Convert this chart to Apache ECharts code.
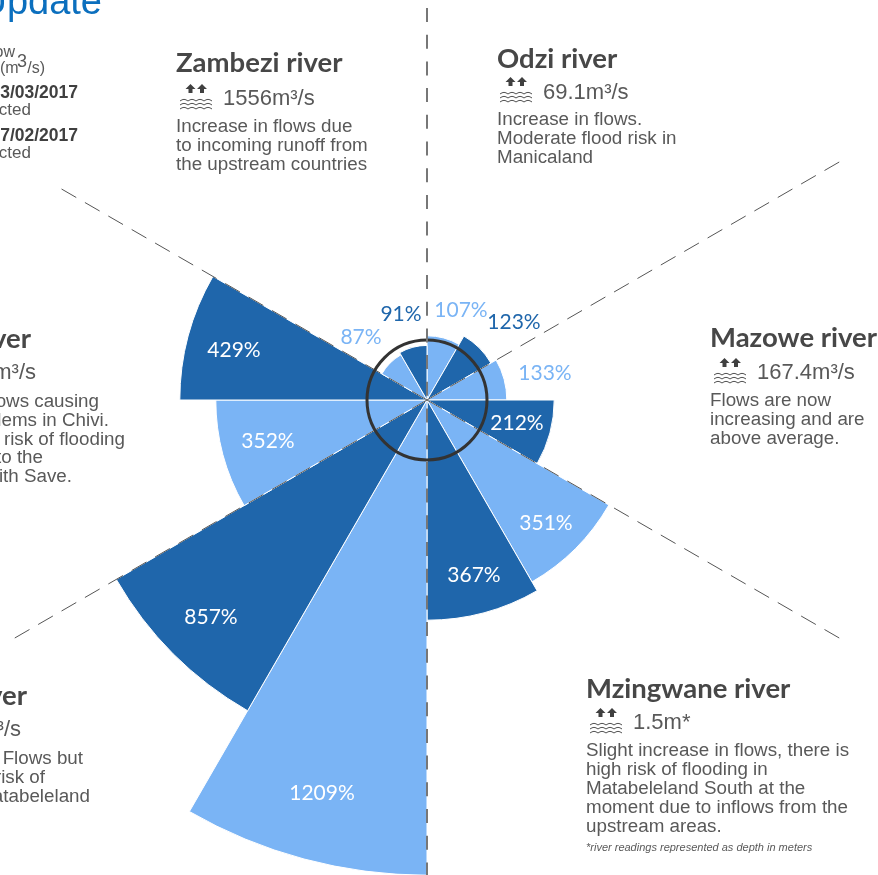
<!DOCTYPE html>
<html>
<head>
<meta charset="utf-8">
<title>River flow update</title>
<script src="https://cdn.jsdelivr.net/npm/echarts@6/dist/echarts.min.js"></script>
<style>
    html, body { margin: 0; padding: 0; background: #fff; }
    #main { width: 878px; height: 875px; }
</style>
</head>
<body>
<div id="main"></div>
<script type="text/javascript">
    // sectors clockwise from 12 o'clock
    var sectors = ['s1', 's2', 's3', 's4', 's5', 's6', 's7', 's8', 's9', 's10', 's11', 's12'];
    // the percent printed on each sector
    var percentLabels = [107, 123, 133, 212, 351, 367, 1209, 857, 352, 429, 87, 91];
    // length as drawn, the long sectors are shortened on the original
    var drawnLength = [107, 123, 133, 212, 350, 367, 792, 598, 352, 412, 87, 91];

    var labelCenters = [[461, 310], [514, 322], [545, 373], [517, 423], [546, 523], [474, 575],
        [322, 793], [211, 617], [268, 441], [234, 350], [361, 337], [401, 314]];

    var DARK = '#1f66ab', LIGHT = '#7ab4f5';
    var CX = 427, CY = 400, PX_PER_UNIT = 0.6, OUTER = 476;

    var rivers = [
        {title: 'Zambezi river', value: '1556m³/s', x: 176, titleY: 63, valueY: 99, iconX: 180, iconY: 84, lineY: 127,
            lines: ['Increase in flows due', 'to incoming runoff from', 'the upstream countries']},
        {title: 'Odzi river', value: '69.1m³/s', x: 497, titleY: 59, valueY: 93, iconX: 500, iconY: 77, lineY: 120,
            lines: ['Increase in flows.', 'Moderate flood risk in', 'Manicaland']},
        {title: 'Mazowe river', value: '167.4m³/s', x: 710, titleY: 338, valueY: 373, iconX: 714, iconY: 358, lineY: 401,
            lines: ['Flows are now', 'increasing and are', 'above average.']},
        {title: 'Mzingwane river', value: '1.5m*', x: 586, titleY: 689, valueY: 723, iconX: 590, iconY: 708, lineY: 751,
            lines: ['Slight increase in flows, there is', 'high risk of flooding in', 'Matabeleland South at the', 'moment due to inflows from the', 'upstream areas.']}
    ];

    // what is left of the texts cut by the left edge: text, right end, y
    var cutTitles = [['ver', 31, 339], ['ver', 27, 696]];
    var cutValues = [['m³/s', 36, 373], ['³/s', 21, 730]];
    var cutLines = [['ows causing', 99, 402], ['lems in Chivi.', 109, 421], ['risk of flooding', 125, 440], ['to the', 43, 458], ['with Save.', 72, 477],
        ['Flows but', 83, 759], ['risk of', 45, 778], ['atabeleland', 90, 797]];
    var cutLegend = [['3/03/2017', 78, 93, true], ['cted', 31, 110, false], ['7/02/2017', 78, 136, true], ['cted', 31, 153, false]];

    function txt(text, x, y, size, color, extra) {
        var style = {text: text, fontFamily: '"Liberation Sans", Arial, sans-serif', fontSize: size, fill: color, align: 'left', verticalAlign: 'middle'};
        for (var k in extra) style[k] = extra[k];
        return {type: 'text', x: x, y: y, z: 30, silent: true, style: style};
    }

    function icon(x, y) {
        var out = [];
        [10.5, 22].forEach(function (ax) {
            out.push({type: 'polygon', x: x, y: y, z: 30, silent: true, style: {fill: '#404040'},
                shape: {points: [[ax, 0], [ax + 5, 5], [ax + 2, 5], [ax + 2, 9], [ax - 2, 9], [ax - 2, 5], [ax - 5, 5]]}});
        });
        [17, 21, 25].forEach(function (wy) {
            var pts = [];
            for (var i = 0; i <= 32; i++) {
                pts.push([i, wy - 1.6 * Math.abs(Math.sin(i * Math.PI / 8))]);
            }
            out.push({type: 'polyline', x: x, y: y, z: 30, silent: true, shape: {points: pts},
                style: {fill: 'none', stroke: '#505050', lineWidth: 1}});
        });
        return out;
    }

    var elements = [
        // the original's legend box hides the end of this spoke
        {type: 'rect', z: 20, silent: true, shape: {x: 0, y: 140, width: 55, height: 60}, style: {fill: '#fff'}},
        {type: 'line', z: 20, silent: true, shape: {x1: CX, y1: 0, x2: CX, y2: 875},
            style: {stroke: '#777', lineWidth: 2, lineDash: [14, 12.7], lineDashOffset: 18.7}},
        txt('Update', 102, 4, 38, '#0b6fbe', {align: 'right'}),
        txt('ow', 15, 53, 16, '#595959', {align: 'right'}),
        txt('(m', 0, 69, 16, '#595959'),
        txt('3', 17, 62, 18, '#595959'),
        txt('/s)', 45, 69, 16, '#595959', {align: 'right'})
    ];
    rivers.forEach(function (r) {
        elements.push(txt(r.title, r.x, r.titleY, 27.5, '#474747', {fontFamily: 'Lato, sans-serif', fontWeight: 'bold'}));
        elements.push(txt(r.value, r.iconX + 43, r.valueY, 22, '#595959'));
        elements = elements.concat(icon(r.iconX, r.iconY));
        r.lines.forEach(function (l, i) {
            elements.push(txt(l, r.x, r.lineY + i * 19, 18.8, '#595959', {}));
        });
    });
    elements.push(txt('*river readings represented as depth in meters', 586, 848, 11, '#595959', {fontStyle: 'italic'}));
    cutTitles.forEach(function (t) {
        elements.push(txt(t[0], t[1], t[2], 27.5, '#474747', {align: 'right', fontFamily: 'Lato, sans-serif', fontWeight: 'bold'}));
    });
    cutValues.forEach(function (t) { elements.push(txt(t[0], t[1], t[2], 22, '#595959', {align: 'right'})); });
    cutLines.forEach(function (t) { elements.push(txt(t[0], t[1], t[2], 18.8, '#595959', {align: 'right'})); });
    cutLegend.forEach(function (t) {
        elements.push(txt(t[0], t[1], t[2], t[3] ? 17.5 : 17, t[3] ? '#404040' : '#595959', {align: 'right', fontWeight: t[3] ? 'bold' : 'normal'}));
    });

    var chart = echarts.init(document.getElementById('main'), null, {renderer: 'canvas'});
    chart.setOption({
        animation: false,
        polar: {center: [CX, CY], radius: OUTER},
        angleAxis: {
            type: 'category',
            data: sectors,
            startAngle: 90,
            z: 8,
            axisLine: {show: false},
            axisTick: {show: false},
            axisLabel: {show: false},
            splitLine: {
                show: true,
                lineStyle: {
                    // spokes only at 60, 120, 240 and 300 degrees
                    color: ['none', 'none', '#555', 'none', '#555', 'none', 'none', 'none', '#555', 'none', '#555', 'none'],
                    width: 1,
                    type: [17, 10]
                }
            }
        },
        radiusAxis: {
            min: 0,
            max: OUTER / PX_PER_UNIT,
            interval: 100,
            z: 9,
            axisLine: {show: false},
            axisTick: {show: false},
            axisLabel: {show: false},
            splitLine: {
                show: true,
                // the ring is the 100% mark
                lineStyle: {color: ['none', '#333', 'none', 'none', 'none', 'none', 'none', 'none', 'none'], width: 3}
            }
        },
        series: [{
            type: 'bar',
            coordinateSystem: 'polar',
            barCategoryGap: 0,
            data: drawnLength.map(function (v, i) {
                var fill = i % 2 === 0 ? LIGHT : DARK;
                return {
                    value: v,
                    itemStyle: {color: fill},
                    label: {color: percentLabels[i] > 200 ? '#fff' : fill}
                };
            }),
            itemStyle: {borderColor: '#fff', borderWidth: 1},
            label: {
                show: true,
                position: 'inside',
                fontFamily: 'Lato, sans-serif',
                fontSize: 21,
                formatter: function (p) { return percentLabels[p.dataIndex] + '%'; }
            },
            labelLayout: function (p) {
                return {x: labelCenters[p.dataIndex][0], y: labelCenters[p.dataIndex][1], align: 'center', verticalAlign: 'middle'};
            }
        }],
        graphic: {elements: elements}
    });
</script>
</body>
</html>
